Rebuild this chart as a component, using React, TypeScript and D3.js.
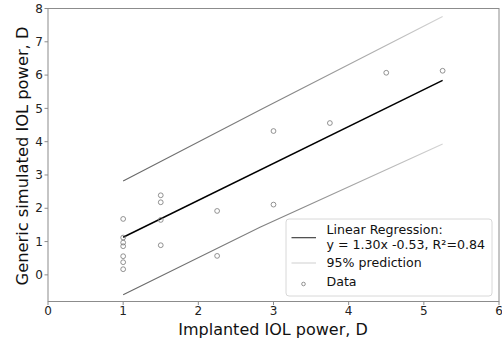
import React from "react";
import * as d3 from "d3";

const dataX = [1, 1, 1, 1, 1, 1, 1, 1.5, 1.5, 1.5, 1.5, 2.25, 2.25, 3, 3, 3.75, 4.5, 5.25];
const dataY = [1.68, 1.12, 0.97, 0.86, 0.56, 0.38, 0.17, 2.39, 2.18, 1.65, 0.89, 1.92, 0.57, 4.32, 2.11, 4.56, 6.07, 6.13];

const fitX = [1, 5.25];
const fitY = [1.13, 5.84];

const bandX = [1, 2.82, 5.25];
const upperY = [2.82, 4.95, 7.76];
const lowerY = [-0.6, 1.43, 3.93];

const xTicks = [0, 1, 2, 3, 4, 5, 6];
const yTicks = [0, 1, 2, 3, 4, 5, 6, 7, 8];

const W = 502;
const H = 340;
const left = 48;
const right = 499;
const top = 8.5;
const bottom = 301.5;

export default function App() {
  const x = d3.scaleLinear().domain([0, 6]).range([left, right]);
  const y = d3.scaleLinear().domain([-0.8, 8]).range([bottom, top]);
  const line = d3
    .line<[number, number]>()
    .x((d) => x(d[0]))
    .y((d) => y(d[1]));
  const fit = line(fitX.map((v, i) => [v, fitY[i]] as [number, number]))!;
  const up = line(bandX.map((v, i) => [v, upperY[i]] as [number, number]))!;
  const lo = line(bandX.map((v, i) => [v, lowerY[i]] as [number, number]))!;
  const font = "DejaVu Sans, sans-serif";
  const axisColor = "#8c8c8c";
  const lf = 12.6;

  return (
    <svg
      width={W}
      height={H}
      style={{ position: "absolute", left: 0, top: 0, background: "#fff" }}
      fontFamily={font}
    >
      <defs>
        <linearGradient id="bandGrad" gradientUnits="userSpaceOnUse" x1={x(1)} y1={0} x2={x(5.25)} y2={0}>
          <stop offset="0%" stopColor="#666" />
          <stop offset="55%" stopColor="#888" />
          <stop offset="100%" stopColor="#d4d4d4" />
        </linearGradient>
      </defs>
      <rect x={0} y={0} width={W} height={H} fill="#fff" />
      <path d={up} fill="none" stroke="url(#bandGrad)" strokeWidth={1.1} />
      <path d={lo} fill="none" stroke="url(#bandGrad)" strokeWidth={1.1} />
      <path d={fit} fill="none" stroke="#000" strokeWidth={1.5} />
      {dataX.map((v, i) => (
        <circle key={i} cx={x(v)} cy={y(dataY[i])} r={2.4} fill="none" stroke="#777" strokeWidth={0.8} />
      ))}
      <rect x={left} y={top} width={right - left} height={bottom - top} fill="none" stroke={axisColor} strokeWidth={1} />
      {xTicks.map((t) => (
        <g key={"x" + t}>
          <line x1={x(t)} x2={x(t)} y1={bottom} y2={bottom + 3.5} stroke={axisColor} />
          <text x={x(t)} y={bottom + 13.5} textAnchor="middle" fontSize={12} fill="#222">
            {t}
          </text>
        </g>
      ))}
      {yTicks.map((t) => (
        <g key={"y" + t}>
          <line x1={left - 3.5} x2={left} y1={y(t)} y2={y(t)} stroke={axisColor} />
          <text x={left - 5} y={y(t)} dy="0.35em" textAnchor="end" fontSize={12} fill="#222">
            {t}
          </text>
        </g>
      ))}
      <text x={273} y={335} textAnchor="middle" fontSize={16} fill="#111">
        Implanted IOL power, D
      </text>
      <text
        transform={`translate(28, 156) rotate(-90)`}
        textAnchor="middle"
        fontSize={16.3}
        fill="#111"
      >
        Generic simulated IOL power, D
      </text>
      <rect x={286} y={219} width={206} height={77} rx={3} fill="#fff" fillOpacity={0.85} stroke="#d8d8d8" strokeWidth={1} />
      <line x1={291.5} x2={316} y1={237.7} y2={237.7} stroke="#333" strokeWidth={1.1} />
      <text x={326.5} y={230} dy="0.35em" fontSize={lf} fill="#111">
        Linear Regression:
      </text>
      <text x={326.5} y={245} dy="0.35em" fontSize={lf} fill="#111">
        y = 1.30x -0.53, R²=0.84
      </text>
      <line x1={291.5} x2={316} y1={263} y2={263} stroke="#d4d4d4" strokeWidth={1.1} />
      <text x={326.5} y={262.3} dy="0.35em" fontSize={lf} fill="#111">
        95% prediction
      </text>
      <circle cx={303.5} cy={284} r={1.8} fill="none" stroke="#777" strokeWidth={0.8} />
      <text x={326.5} y={281.7} dy="0.35em" fontSize={lf} fill="#111">
        Data
      </text>
    </svg>
  );
}
